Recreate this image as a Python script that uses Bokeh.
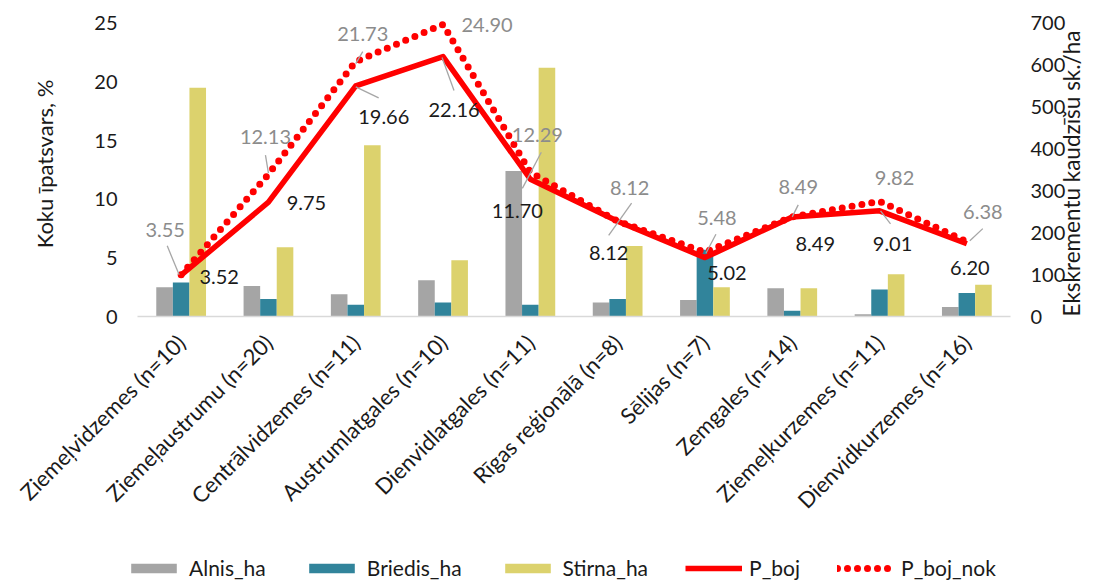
import math
from bokeh.plotting import figure
from bokeh.models import (FactorRange, Range1d, LinearAxis, FixedTicker,
                          ColumnDataSource, Legend, LegendItem)
from bokeh.transform import dodge
from bokeh.core.properties import value
from bokeh.embed import file_html
from bokeh.resources import INLINE

# ---- data -------------------------------------------------------------
regions = ["Ziemeļvidzemes (n=10)", "Ziemeļaustrumu (n=20)", "Centrālvidzemes (n=11)",
           "Austrumlatgales (n=10)", "Dienvidlatgales (n=11)", "Rīgas reģionālā (n=8)",
           "Sēlijas (n=7)", "Zemgales (n=14)", "Ziemeļkurzemes (n=11)", "Dienvidkurzemes (n=16)"]
alnis_ha = [2.5, 2.6, 1.9, 3.1, 12.4, 1.2, 1.4, 2.4, 0.2, 0.8]
briedis_ha = [2.9, 1.5, 1.0, 1.2, 1.0, 1.5, 5.7, 0.5, 2.3, 2.0]
stirna_ha = [19.5, 5.9, 14.6, 4.8, 21.2, 6.0, 2.5, 2.4, 3.6, 2.7]
p_boj = [3.52, 9.75, 19.66, 22.16, 11.70, 8.12, 5.02, 8.49, 9.01, 6.20]
p_boj_nok = [3.55, 12.13, 21.73, 24.90, 12.29, 8.12, 5.48, 8.49, 9.82, 6.38]
left_ticks = [0, 5, 10, 15, 20, 25]
right_ticks = [0, 100, 200, 300, 400, 500, 600, 700]
series_names = ["Alnis_ha", "Briedis_ha", "Stirna_ha", "P_boj", "P_boj_nok"]

# ---- layout / style ---------------------------------------------------
FONT = "Lato"
W, H = 1101, 580
LEG_H = 34                                    # strip holding the legend
MAIN_H = H - LEG_H
Y_END = 26                                    # a little headroom above the 25 tick
RIGHT_PER_LEFT = right_ticks[-1] / left_ticks[-1]
FL, FR, FB = 137, 1013, 316                   # plot frame edges (px)
PX_VAL = (FB - 23) / left_ticks[-1]           # px per left-axis unit
FT = round(FB - Y_END * PX_VAL)
PX_CAT = (FR - FL) / len(regions)             # px per category

C_ALNIS, C_BRIEDIS, C_STIRNA, C_RED = "#a5a5a5", "#31849b", "#dcd26d", "#ff0000"
C_LEAD, C_GRAYTXT, C_TXT = "#a6a6a6", "#8c8c8c", "#1a1a1a"

# label offsets (px, from the point); leader lines as start/end offsets (px)
boj_lbl_off = [(38, 2), (38, 1), (28, 31), (11, 53), (-13, 32), (-9, 32),
               (22, 15), (23, 27), (13, 33), (3, 24)]
boj_lead = [None, None, ((0, 1), (23, 12)), ((-1, 1), (11, 34)), None, None,
            None, None, ((1, 0), (11, 13)), None]
nok_lbl_off = [(-16, -45), (-3, -37), (7, -28), (44, 1), (7, -37), (12, -33),
               (12, -34), (6, -30), (15, -23), (16, -30)]
nok_lead = [((-14, -29), (-2, 0)), ((-3, -19), (0, -1)), ((7, -10), (0, 2)), None,
            ((11, -20), (-8, 16)), ((14, -18), (-9, 14)), ((11, -18), (1, 1)),
            ((0, 0), (6, -12)), None, ((3, -1), (16, -13))]

BAR_STYLE = [dict(fill_color=C_ALNIS, line_color=None),
             dict(fill_color=C_BRIEDIS, line_color=None),
             dict(fill_color=C_STIRNA, line_color=None)]
BOJ_STYLE = dict(line_color=C_RED, line_width=5.5, line_join="round")
NOK_STYLE = dict(line_color=C_RED, line_width=7, line_dash="0 10", line_cap="round")

src = ColumnDataSource(dict(region=regions, alnis=alnis_ha, briedis=briedis_ha,
                            stirna=stirna_ha, boj=p_boj, nok=p_boj_nok))
BW = 0.19
BAR_COLS = (("alnis", -BW), ("briedis", 0), ("stirna", BW))


def add_series(fig):
    """Bars and the two lines; returns the five renderers in legend order."""
    rs = []
    for (col, off), st in zip(BAR_COLS, BAR_STYLE):
        rs.append(fig.vbar(x=dodge("region", off, range=fig.x_range), top=col,
                           width=BW, source=src, **st))
    rs.append(fig.line(x="region", y="boj", source=src, **BOJ_STYLE))
    rs.append(fig.line(x="region", y="nok", source=src, **NOK_STYLE))
    return rs


p = figure(width=W, height=MAIN_H, x_range=FactorRange(factors=regions, range_padding=0),
           y_range=Range1d(0, Y_END),
           output_backend="svg", toolbar_location=None,
           min_border_left=FL, min_border_right=W - FR,
           min_border_top=FT, min_border_bottom=MAIN_H - FB)
p.outline_line_color = None
p.xgrid.grid_line_color = None
p.ygrid.grid_line_color = None
add_series(p)


def leaders(values, leads):
    x0, y0, x1, y1 = [], [], [], []
    for i, (v, ld) in enumerate(zip(values, leads)):
        if ld is None:
            continue
        (sx, sy), (ex, ey) = ld
        cx = i + 0.5
        x0.append(cx + sx / PX_CAT)
        y0.append(v - sy / PX_VAL)
        x1.append(cx + ex / PX_CAT)
        y1.append(v - ey / PX_VAL)
    return dict(x0=x0, y0=y0, x1=x1, y1=y1)


for vals, leads in ((p_boj, boj_lead), (p_boj_nok, nok_lead)):
    p.segment(x0="x0", y0="y0", x1="x1", y1="y1",
              source=ColumnDataSource(leaders(vals, leads)),
              line_color=C_LEAD, line_width=1.3)

for vals, offs, col in ((p_boj, boj_lbl_off, C_TXT), (p_boj_nok, nok_lbl_off, C_GRAYTXT)):
    s = ColumnDataSource(dict(x=regions, y=vals, t=[f"{v:.2f}" for v in vals],
                              dx=[o[0] for o in offs], dy=[o[1] for o in offs]))
    p.text(x="x", y="y", text="t", x_offset="dx", y_offset="dy", source=s,
           text_font=value(FONT), text_font_size="20px", text_color=col,
           text_align="center", text_baseline="middle")

# ---- axes -------------------------------------------------------------
xa = p.xaxis[0]
xa.major_label_orientation = math.pi / 4
xa.axis_line_color = "#d9d9d9"
xa.axis_line_width = 1.5
xa.major_tick_line_color = None
xa.minor_tick_line_color = None
xa.major_tick_out = 0
xa.major_tick_in = 0
xa.major_label_standoff = 22
xa.major_label_text_font = FONT
xa.major_label_text_font_size = "22px"
xa.major_label_text_color = C_TXT

ya = p.yaxis[0]
ya.ticker = FixedTicker(ticks=left_ticks)
ya.axis_label = "Koku īpatsvars, %"

p.extra_y_ranges = {"right": Range1d(0, Y_END * RIGHT_PER_LEFT)}
ra = LinearAxis(y_range_name="right", ticker=FixedTicker(ticks=right_ticks),
                axis_label="Ekskrementu kaudzīšu sk./ha")
p.add_layout(ra, "right")
# read bottom-to-top, starting from the bottom of the frame
ra.axis_label_orientation = math.pi / 2
ra.axis_label_align = "start"

for ax, lstand, tstand, tsize in ((ya, 20, 33, "22px"), (ra, 20, 3, "22.5px")):
    ax.axis_line_color = None
    ax.major_tick_line_color = None
    ax.minor_tick_line_color = None
    ax.major_tick_out = 0
    ax.major_tick_in = 0
    ax.minor_tick_out = 0
    ax.minor_tick_in = 0
    ax.major_label_standoff = lstand
    ax.axis_label_standoff = tstand
    ax.major_label_text_font = FONT
    ax.major_label_text_font_size = "20px"
    ax.major_label_text_color = C_TXT
    ax.axis_label_text_font = FONT
    ax.axis_label_text_font_size = tsize
    ax.axis_label_text_font_style = "normal"
    ax.axis_label_text_color = C_TXT

# ---- legend strip (its renderers are hidden; only the keys show) ---------
lg = figure(width=W, height=LEG_H, x_range=FactorRange(factors=regions, range_padding=0),
            y_range=Range1d(0, Y_END), output_backend="svg", toolbar_location=None,
            min_border=0, min_border_left=0, min_border_right=0,
            min_border_top=0, min_border_bottom=0)
lg.axis.visible = False
lg.grid.visible = False
lg.outline_line_color = None
keys = add_series(lg)
for r in keys:
    r.visible = False

legend = Legend(items=[LegendItem(label=n, renderers=[r]) for n, r in zip(series_names, keys)],
                orientation="horizontal", location=(125, 0))
legend.glyph_width = 57
legend.glyph_height = 12
legend.label_standoff = 7
legend.spacing = 37
legend.padding = 0
legend.margin = 0
legend.border_line_color = None
legend.background_fill_alpha = 0
legend.label_text_font = FONT
legend.label_text_font_size = "21px"
legend.label_text_color = C_TXT
lg.add_layout(legend)

open("out.html", "w").write(file_html([p, lg], INLINE))
